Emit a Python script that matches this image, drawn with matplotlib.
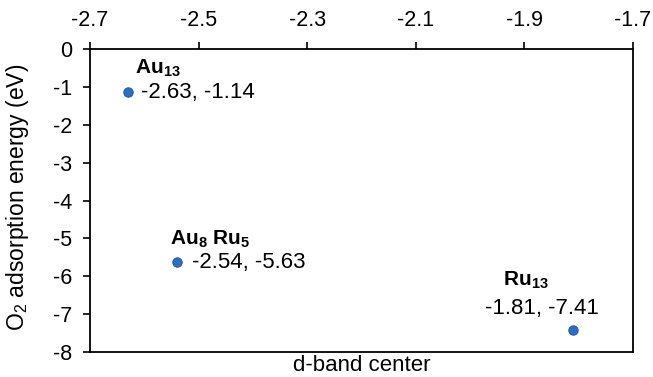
import matplotlib
matplotlib.use('Agg')
import matplotlib.pyplot as plt

# Data
names = [r'$\mathbf{Au_{13}}$', r'$\mathbf{Au_{8}\ Ru_{5}}$', r'$\mathbf{Ru_{13}}$']
d_band = [-2.63, -2.54, -1.81]
o2_ads = [-1.14, -5.63, -7.41]
x_ticks = [-2.7, -2.5, -2.3, -2.1, -1.9, -1.7]
y_ticks = [0, -1, -2, -3, -4, -5, -6, -7, -8]

plt.rcParams['font.family'] = 'Liberation Sans'
plt.rcParams['mathtext.fontset'] = 'custom'
plt.rcParams['mathtext.rm'] = 'Liberation Sans'
plt.rcParams['mathtext.bf'] = 'Liberation Sans:bold'
plt.rcParams['mathtext.it'] = 'Liberation Sans:italic'

fig = plt.figure(figsize=(6.53, 3.77), dpi=100)
ax = fig.add_axes([0.1378, 0.0663, 0.8316, 0.8037])

ax.scatter(d_band, o2_ads, s=45, color='#2F6DC0', edgecolor='#2A5CA8', linewidth=0.8, zorder=3)

# label offsets in pixels: (name offset, value offset, value alignment)
name_off = [(7, 24), (-7, 23), (-70, 49)]
val_off = [(13, 0), (15, 0), (26, 21)]
val_ha = ['left', 'left', 'right']
for i in range(len(names)):
    ax.annotate(names[i], (d_band[i], o2_ads[i]), xytext=name_off[i],
                textcoords='offset pixels', ha='left', va='center', fontsize=15)
    ax.annotate(f'{d_band[i]:.2f}, {o2_ads[i]:.2f}', (d_band[i], o2_ads[i]),
                xytext=val_off[i], textcoords='offset pixels',
                ha=val_ha[i], va='center', fontsize=16)

ax.set_xlim(-2.7, -1.7)
ax.set_ylim(-8, 0)
ax.set_xticks(x_ticks)
ax.set_xticklabels([f'{v:.1f}' for v in x_ticks])
ax.set_yticks(y_ticks)
ax.set_yticklabels([str(v) for v in y_ticks])
ax.xaxis.tick_top()
ax.tick_params(axis='both', direction='out', length=5, width=1.2, labelsize=15.5, pad=8,
               colors='black')
for sp in ax.spines.values():
    sp.set_linewidth(1.3)
    sp.set_color('black')

ax.set_xlabel('d-band center', fontsize=16)
ax.xaxis.set_label_position('bottom')
ax.xaxis.set_label_coords(0.5, -0.046)
ax.xaxis.label.set_va('center')
ax.set_ylabel(r'O$_2$ adsorption energy (eV)', fontsize=16.5)
ax.yaxis.set_label_coords(-0.1326, 0.51)
ax.yaxis.label.set_va('center')

fig.savefig('out.png', dpi=100)
